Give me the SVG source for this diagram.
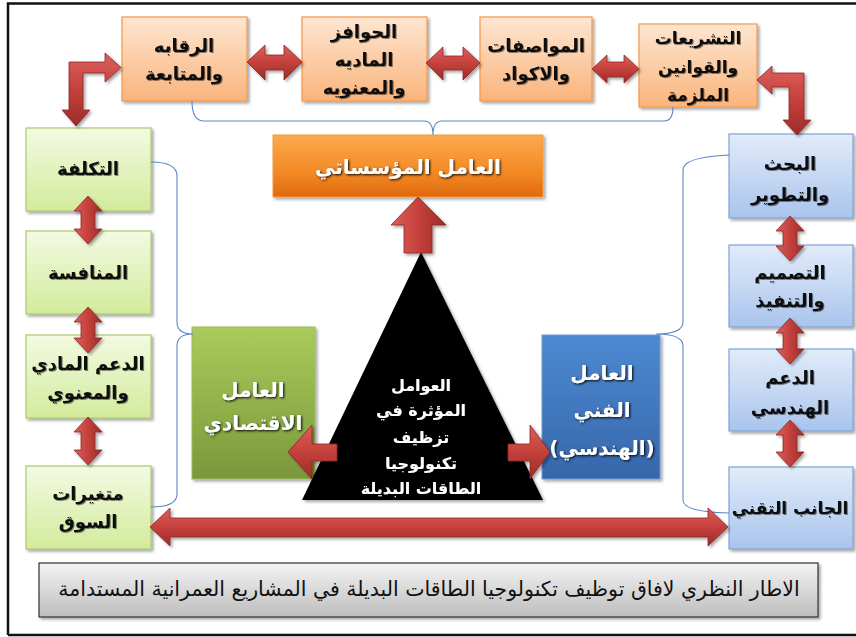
<svg xmlns="http://www.w3.org/2000/svg" width="856" height="637" viewBox="0 0 856 637">
<defs>
<linearGradient id="gPeach" x1="0" y1="0" x2="0" y2="1"><stop offset="0" stop-color="#FDE6D2"/><stop offset="1" stop-color="#FAB47C"/></linearGradient>
<linearGradient id="gGreen" x1="0" y1="0" x2="0" y2="1"><stop offset="0" stop-color="#F3FAE2"/><stop offset="1" stop-color="#D3EB9C"/></linearGradient>
<linearGradient id="gBlue" x1="0" y1="0" x2="0" y2="1"><stop offset="0" stop-color="#E2ECFA"/><stop offset="1" stop-color="#A9C4EC"/></linearGradient>
<linearGradient id="gOrange" x1="0" y1="0" x2="0" y2="1"><stop offset="0" stop-color="#FCA94E"/><stop offset="0.6" stop-color="#F38A25"/><stop offset="1" stop-color="#E0690C"/></linearGradient>
<linearGradient id="gGreenD" x1="0" y1="0" x2="0" y2="1"><stop offset="0" stop-color="#AACB5C"/><stop offset="1" stop-color="#7A983B"/></linearGradient>
<linearGradient id="gBlueD" x1="0" y1="0" x2="0" y2="1"><stop offset="0" stop-color="#4E8AD2"/><stop offset="1" stop-color="#3666AA"/></linearGradient>
<linearGradient id="gGray" x1="0" y1="0" x2="0" y2="1"><stop offset="0" stop-color="#F4F4F4"/><stop offset="1" stop-color="#BDBDBD"/></linearGradient>
<linearGradient id="gRedH" x1="0" y1="0" x2="0" y2="1"><stop offset="0" stop-color="#D9605C"/><stop offset="0.45" stop-color="#C8433F"/><stop offset="1" stop-color="#9C2B27"/></linearGradient>
<linearGradient id="gRedV" x1="0" y1="0" x2="1" y2="0"><stop offset="0" stop-color="#D9605C"/><stop offset="0.45" stop-color="#C8433F"/><stop offset="1" stop-color="#9C2B27"/></linearGradient>
<filter id="sh" x="-10%" y="-10%" width="130%" height="130%"><feDropShadow dx="2" dy="2" stdDeviation="1.5" flood-color="#000" flood-opacity="0.35"/></filter>
<filter id="tsh" x="-10%" y="-20%" width="130%" height="150%"><feDropShadow dx="1" dy="1" stdDeviation="0.6" flood-color="#000" flood-opacity="0.45"/></filter>
<filter id="tshW" x="-10%" y="-20%" width="130%" height="150%"><feDropShadow dx="1.2" dy="1.2" stdDeviation="0.8" flood-color="#000" flood-opacity="0.9"/></filter>
<style>
.peach{fill:url(#gPeach);stroke:#F79646;stroke-width:1.2;filter:url(#sh)}
.green{fill:url(#gGreen);stroke:#A9C870;stroke-width:1.2;filter:url(#sh)}
.blue{fill:url(#gBlue);stroke:#7FA3D7;stroke-width:1.2;filter:url(#sh)}
.t{font-family:"DejaVu Sans","Noto Sans",sans-serif;font-weight:bold;font-size:18px;fill:#111;text-anchor:middle;dominant-baseline:central;direction:rtl;filter:url(#tsh)}
.sm{font-size:17px}
.w{font-family:"DejaVu Sans","Noto Sans",sans-serif;font-weight:bold;font-size:20px;fill:#fff;text-anchor:middle;dominant-baseline:central;direction:rtl;filter:url(#tshW)}
.tri{font-size:16px}
.cap{font-family:"DejaVu Sans","Noto Sans",serif;font-size:20.5px;fill:#111;text-anchor:middle;dominant-baseline:central;direction:rtl}
.ah{fill:url(#gRedH);stroke:#8E2622;stroke-width:0.8;filter:url(#sh)}
.av{fill:url(#gRedV);stroke:#8E2622;stroke-width:0.8;filter:url(#sh)}
.br{fill:none;stroke:#5B87C5;stroke-width:1.1}
</style>
</defs>
<rect x="0" y="0" width="856" height="637" fill="#fff"/>
<path d="M8,635 L8,3.5 L858,3.5 M8,635 L858,635" fill="none" stroke="#111" stroke-width="2.5"/>

<g id="n-riqaba"><rect class="peach" x="122" y="17" width="125" height="84"/>
<text class="t" x="184" y="45">الرقابه</text><text class="t" x="184" y="73">والمتابعة</text></g>
<g id="n-hawafiz"><rect class="peach" x="302" y="17" width="125" height="84"/>
<text class="t" x="364" y="31">الحوافز</text><text class="t" x="364" y="59">الماديه</text><text class="t" x="364" y="87">والمعنويه</text></g>
<g id="n-muwasafat"><rect class="peach" x="480" y="17" width="112" height="84"/>
<text class="t" x="536" y="45">المواصفات</text><text class="t" x="536" y="73">والاكواد</text></g>
<g id="n-tashriat"><rect class="peach" x="639" y="24" width="118" height="83"/>
<text class="t sm" x="698" y="38">التشريعات</text><text class="t sm" x="698" y="67">والقوانين</text><text class="t sm" x="698" y="95">الملزمة</text></g>

<g id="n-taklifa"><rect class="green" x="26" y="128" width="125" height="83"/>
<text class="t" x="88" y="168">التكلفة</text></g>
<g id="n-munafasa"><rect class="green" x="26" y="231" width="125" height="83"/>
<text class="t" x="88" y="272">المنافسة</text></g>
<g id="n-dam-madi"><rect class="green" x="26" y="335" width="125" height="83"/>
<text class="t" x="88" y="363">الدعم المادي</text><text class="t" x="88" y="392">والمعنوي</text></g>
<g id="n-mutaghayyirat"><rect class="green" x="26" y="466" width="125" height="83"/>
<text class="t" x="88" y="493">متغيرات</text><text class="t" x="88" y="521">السوق</text></g>

<g id="n-bahth"><rect class="blue" x="729" y="134" width="124" height="84"/>
<text class="t" x="790" y="163">البحث</text><text class="t" x="790" y="194">والتطوير</text></g>
<g id="n-tasmim"><rect class="blue" x="729" y="245" width="124" height="82"/>
<text class="t" x="790" y="272">التصميم</text><text class="t" x="790" y="300">والتنفيذ</text></g>
<g id="n-dam-handasi"><rect class="blue" x="729" y="349" width="124" height="82"/>
<text class="t" x="790" y="377">الدعم</text><text class="t" x="790" y="407">الهندسي</text></g>
<g id="n-janib"><rect class="blue" x="729" y="467" width="124" height="82"/>
<text class="t sm" x="790" y="508">الجانب التقني</text></g>

<g id="n-muassasati"><rect x="273" y="135" width="270" height="62" fill="url(#gOrange)" stroke="#F39A42" stroke-width="1" filter="url(#sh)"/>
<text class="w" x="408" y="167">العامل المؤسساتي</text></g>

<g id="n-iqtisadi"><rect x="192" y="327" width="123" height="152" fill="url(#gGreenD)" stroke="#9BBB59" stroke-width="1" filter="url(#sh)"/>
<text class="w" x="253" y="390">العامل</text><text class="w" x="253" y="423">الاقتصادي</text></g>

<g id="n-fanni"><rect x="542" y="335" width="118" height="144" fill="url(#gBlueD)" stroke="#6E98D0" stroke-width="1" filter="url(#sh)"/>
<text class="w" x="602" y="373">العامل</text><text class="w" x="602" y="410">الفني</text><text class="w" x="602" y="448">(الهندسي)</text></g>

<g id="n-awamil"><polygon points="421,252 302,500 543,500" fill="#000" filter="url(#sh)"/>
<text class="w tri" x="421" y="385">العوامل</text>
<text class="w tri" x="421" y="410">المؤثرة في</text>
<text class="w tri" x="421" y="437">تزظيف</text>
<text class="w tri" x="421" y="463">تكنولوجيا</text>
<text class="w tri" x="421" y="488">الطاقات البديلة</text></g>

<g id="n-caption"><rect x="39" y="563" width="779" height="54" fill="url(#gGray)" stroke="#333" stroke-width="1.2" filter="url(#sh)"/>
<text class="cap" x="429" y="589">الاطار النظري لافاق توظيف تكنولوجيا الطاقات البديلة في المشاريع العمرانية المستدامة</text></g>

<g id="connectors">
<path class="br" d="M192,101 Q192,121 204,121 L424,121 Q433,121 433,135 Q433,121 442,121 L664,121 Q673,121 673,107"/>
<path class="br" d="M151,162 Q177,162 177,176 L177,322 Q177,334 193,334 Q177,334 177,346 L177,494 Q177,507 151,507"/>
<path class="br" d="M729,155 Q683,157 683,170 L683,322 Q683,334 656,334 Q683,334 683,346 L683,500 Q683,512 729,513"/>
<path class="ah" d="M247,62 L265,45 L265,55 L284,55 L284,45 L302,62 L284,80 L284,70 L265,70 L265,80 Z"/>
<path class="ah" d="M426,63 L443,47 L443,56 L463,56 L463,47 L480,63 L463,80 L463,70 L443,70 L443,80 Z"/>
<path class="ah" d="M592,69 L607,55 L607,62 L624,62 L624,55 L639,69 L624,83 L624,77 L607,77 L607,83 Z"/>
<path class="ah" d="M69,62 L105,62 L105,53 L121,67.5 L105,82 L105,73 L83,73 L83,110 L90,110 L76,126 L62,110 L69,110 Z"/>
<path class="ah" d="M757,80 L772,66 L772,73 L804,73 L804,120 L811,120 L797,135 L783,120 L789,120 L789,87 L772,87 L772,94 Z"/>
<path class="av" d="M88,196 L102,211 L95,211 L95,229 L102,229 L88,244 L74,229 L81,229 L81,211 L74,211 Z"/>
<path class="av" d="M88,307 L102,322 L95,322 L95,338 L102,338 L88,353 L74,338 L81,338 L81,322 L74,322 Z"/>
<path class="av" d="M88,417 L102,432 L95,432 L95,450 L102,450 L88,465 L74,450 L81,450 L81,432 L74,432 Z"/>
<path class="av" d="M790,216 L804,231 L797,231 L797,246 L804,246 L790,261 L776,246 L783,246 L783,231 L776,231 Z"/>
<path class="av" d="M790,318 L804,333 L797,333 L797,349 L804,349 L790,364 L776,349 L783,349 L783,333 L776,333 Z"/>
<path class="av" d="M790,420 L804,435 L797,435 L797,452 L804,452 L790,467 L776,452 L783,452 L783,435 L776,435 Z"/>
<path class="ah" d="M150,527 L170,508 L170,518 L708,518 L708,508 L728,527 L708,546 L708,537 L170,537 L170,546 Z"/>
<path class="av" d="M418,197 L446,225 L432,225 L432,253 L404,253 L404,225 L391,225 Z"/>
<path class="ah" d="M288,452 L312,425 L312,444 L337,444 L337,461 L312,461 L312,479 Z"/>
<path class="ah" d="M550,452 L530,425 L530,444 L508,444 L508,461 L530,461 L530,479 Z"/>
</g>
</svg>
